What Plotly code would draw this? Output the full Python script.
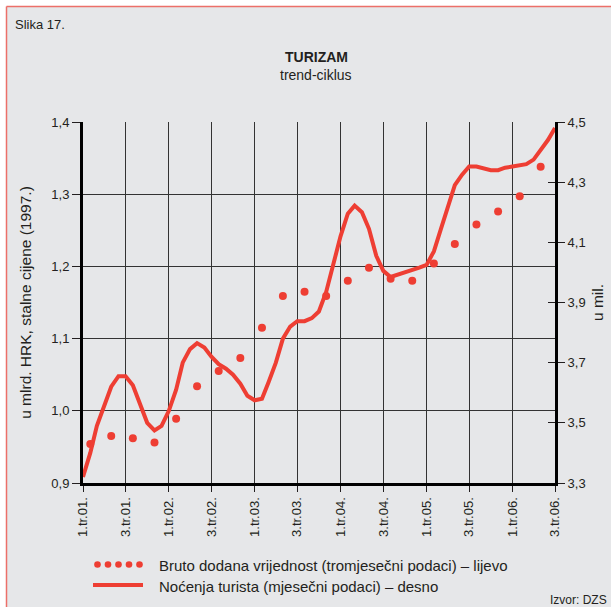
import pandas as pd
import plotly.graph_objects as go

# quarterly GVA (left axis), billions HRK, constant 1997 prices
bdv_values = [0.954, 0.965, 0.962, 0.956, 0.989, 1.034, 1.055, 1.073, 1.115, 1.159, 1.165,
              1.159, 1.180, 1.198, 1.183, 1.180, 1.204, 1.231, 1.258, 1.276, 1.297, 1.338]
# monthly tourist nights (right axis), millions, Jan 2001 - Jul 2006
nocenja_values = [3.32, 3.40, 3.49, 3.56, 3.62, 3.655, 3.655, 3.625, 3.56, 3.50, 3.475, 3.49,
                  3.54, 3.61, 3.70, 3.745, 3.765, 3.75, 3.72, 3.695, 3.68, 3.66, 3.63, 3.59,
                  3.575, 3.58, 3.635, 3.70, 3.78, 3.82, 3.838, 3.838, 3.848, 3.87, 3.935, 4.03,
                  4.12, 4.195, 4.222, 4.20, 4.145, 4.055, 4.005, 3.985, 3.992, 4.00, 4.008, 4.016,
                  4.025, 4.07, 4.14, 4.22, 4.29, 4.325, 4.352, 4.352, 4.347, 4.34, 4.34, 4.348,
                  4.352, 4.355, 4.36, 4.375, 4.405, 4.44, 4.48]
bdv_dates = pd.date_range("2001-02-01", periods=len(bdv_values), freq="3MS")
nocenja_dates = pd.date_range("2001-01-01", periods=len(nocenja_values), freq="MS")

tick_dates = pd.date_range("2001-01-01", periods=12, freq="6MS")
tick_labels = ["1.tr.01.", "3.tr.01.", "1.tr.02.", "3.tr.02.", "1.tr.03.", "3.tr.03.",
               "1.tr.04.", "3.tr.04.", "1.tr.05.", "3.tr.05.", "1.tr.06.", "3.tr.06."]

RED = "#ee3e33"
BG = "#e6e7e9"
INK = "#231f20"
FONT = "Liberation Sans, Arial, sans-serif"

W, H = 611, 607
ML, MR, MT, MB = 83, 56, 122, 124
PW, PH = W - ML - MR, H - MT - MB

def px(x):
    return (x - ML) / PW

def py(y):
    return (H - MB - y) / PH

fig = go.Figure()
fig.add_trace(go.Scatter(x=nocenja_dates, y=nocenja_values, yaxis="y2", mode="lines",
                         line=dict(color=RED, width=4), showlegend=False))
fig.add_trace(go.Scatter(x=bdv_dates, y=bdv_values, mode="markers",
                         marker=dict(color=RED, size=8), showlegend=False))
# dummy trace so the inner half of right ticks gets drawn
fig.add_trace(go.Scatter(x=[nocenja_dates[0]], y=[3.3], yaxis="y3", mode="markers",
                         marker=dict(opacity=0), showlegend=False, hoverinfo="skip"))

shapes = [
    dict(type="rect", xref="paper", yref="paper", x0=px(0), x1=px(W), y0=py(6.5), y1=py(0),
         fillcolor="white", line_width=0, layer="above"),
    dict(type="rect", xref="paper", yref="paper", x0=px(0), x1=px(6.5), y0=py(H), y1=py(0),
         fillcolor="white", line_width=0, layer="above"),
    dict(type="line", xref="paper", yref="paper", x0=px(6.5), x1=px(W), y0=py(6.5), y1=py(6.5),
         line=dict(color="#ec6f69", width=1.5), layer="above"),
    dict(type="line", xref="paper", yref="paper", x0=px(6.5), x1=px(6.5), y0=py(6.5), y1=py(H),
         line=dict(color="#ec6f69", width=1.5), layer="above"),
    # legend swatches
    dict(type="line", xref="paper", yref="paper", x0=px(93), x1=px(143), y0=py(585), y1=py(585),
         line=dict(color=RED, width=4), layer="above"),
]
for cx in [97.5, 108, 118.5, 129, 139.5]:
    shapes.append(dict(type="circle", xref="paper", yref="paper",
                       x0=px(cx - 3.3), x1=px(cx + 3.3), y0=py(564.5 + 3.3), y1=py(564.5 - 3.3),
                       fillcolor=RED, line_width=0, layer="above"))

annotations = [
    dict(text="Slika 17.", x=px(13), y=py(25), xanchor="left", yanchor="middle",
         font=dict(size=13)),
    dict(text="<b>TURIZAM</b>", x=px(316), y=py(57), xanchor="center", yanchor="middle",
         font=dict(size=14)),
    dict(text="trend-ciklus", x=px(316), y=py(75), xanchor="center", yanchor="middle",
         font=dict(size=14)),
    dict(text="Bruto dodana vrijednost (tromjesečni podaci) – lijevo", x=px(157), y=py(565),
         xanchor="left", yanchor="middle", font=dict(size=15)),
    dict(text="Noćenja turista (mjesečni podaci) – desno", x=px(157), y=py(586),
         xanchor="left", yanchor="middle", font=dict(size=15)),
    dict(text="Izvor: DZS", x=px(609), y=py(600), xanchor="right", yanchor="middle",
         font=dict(size=12)),
]
for a in annotations:
    a.update(xref="paper", yref="paper", showarrow=False)

fig.update_layout(
    width=W, height=H,
    margin=dict(l=ML, r=MR, t=MT, b=MB, autoexpand=False),
    paper_bgcolor=BG, plot_bgcolor=BG,
    font=dict(family=FONT, color=INK, size=13),
    separators=",.",
    showlegend=False,
    shapes=shapes,
    annotations=annotations,
    xaxis=dict(type="date", range=[nocenja_dates[0], nocenja_dates[-1]],
               tickmode="array", tickvals=tick_dates, ticktext=tick_labels, tickangle=-90,
               ticks="outside", ticklen=6, tickcolor=INK, tickwidth=1,
               showgrid=True, gridcolor="#333333", gridwidth=1,
               showline=True, linecolor="black", linewidth=3, zeroline=False,
               tickfont=dict(size=13)),
    yaxis=dict(range=[0.9, 1.4], dtick=0.1, tick0=0.9, tickformat=".1f",
               ticks="outside", ticklen=8, tickcolor=INK, tickwidth=1,
               showgrid=True, gridcolor="#333333", gridwidth=1,
               showline=True, linecolor="black", linewidth=3, zeroline=False,
               title=dict(text="u mlrd. HRK, stalne cijene (1997.)", standoff=16,
                          font=dict(size=15.5))),
    yaxis2=dict(range=[3.3, 4.5], dtick=0.2, tick0=3.3, tickformat=".1f",
                overlaying="y", side="right", anchor="x",
                ticks="outside", ticklen=7, tickcolor=INK, tickwidth=1,
                showgrid=False, zeroline=False,
                showline=True, linecolor="black", linewidth=3,
                title=dict(text="u mil.", standoff=8, font=dict(size=15.5))),
    yaxis3=dict(range=[3.3, 4.5], dtick=0.2, tick0=3.3,
                overlaying="y", side="right", anchor="x",
                ticks="inside", ticklen=7, tickcolor=INK, tickwidth=1,
                showticklabels=False, showgrid=False, zeroline=False, showline=False),
)

fig.write_html("out.html", config={"displayModeBar": False},
               post_script="document.body.style.margin='0';")
